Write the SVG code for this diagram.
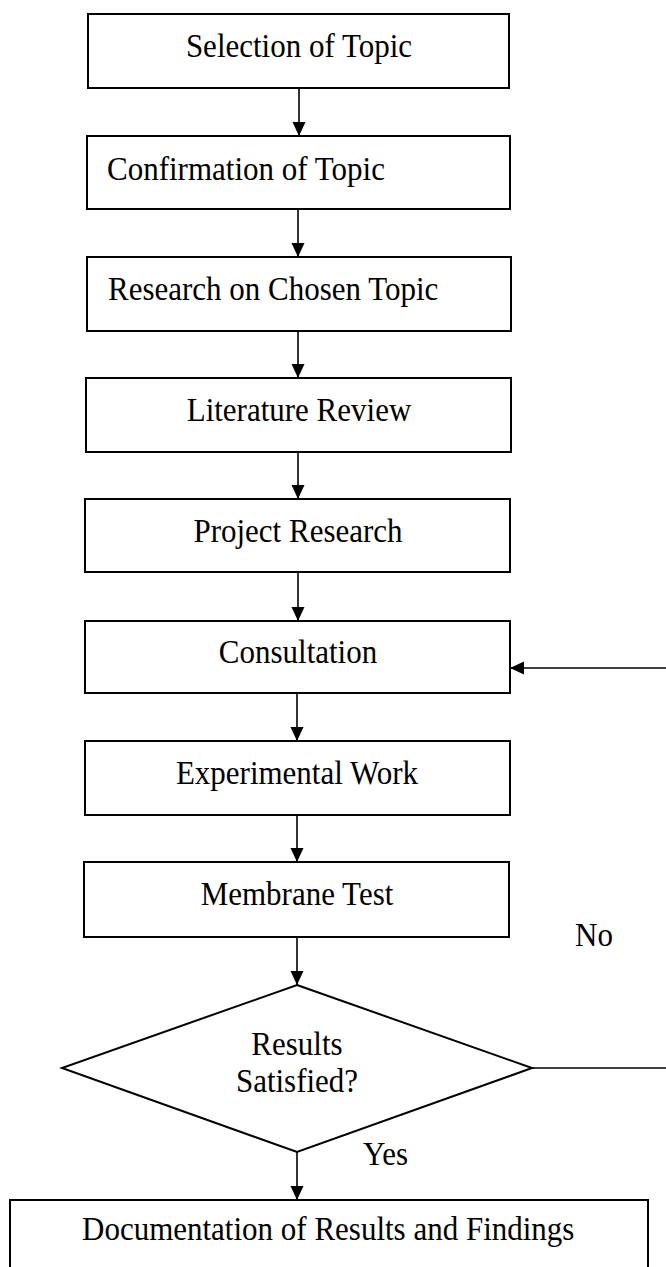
<svg xmlns="http://www.w3.org/2000/svg" width="666" height="1267" viewBox="0 0 666 1267">
<style>
.box{fill:#fff;stroke:#000;stroke-width:2}
.t{font-family:"Liberation Serif","Times New Roman",serif;font-size:31px;fill:#000}
.c{text-anchor:middle}
.ln{fill:none;stroke:#000;stroke-width:1.6}
</style>
<defs>
<marker id="ah" markerUnits="userSpaceOnUse" markerWidth="14" markerHeight="14" refX="14" refY="6.5" orient="auto">
<path d="M0,0 L14,6.5 L0,13 Z" fill="#000"/>
</marker>
</defs>
<rect width="666" height="1267" fill="#fff"/>
<g id="connectors">
<line class="ln" x1="299" y1="88" x2="299" y2="136" marker-end="url(#ah)"/>
<line class="ln" x1="298" y1="209" x2="298" y2="257" marker-end="url(#ah)"/>
<line class="ln" x1="298" y1="331" x2="298" y2="378" marker-end="url(#ah)"/>
<line class="ln" x1="298" y1="452" x2="298" y2="499" marker-end="url(#ah)"/>
<line class="ln" x1="298" y1="572" x2="298" y2="621" marker-end="url(#ah)"/>
<line class="ln" x1="297" y1="693" x2="297" y2="741" marker-end="url(#ah)"/>
<line class="ln" x1="297" y1="815" x2="297" y2="862" marker-end="url(#ah)"/>
<line class="ln" x1="297" y1="937" x2="297" y2="985" marker-end="url(#ah)"/>
<line class="ln" x1="297" y1="1152" x2="297" y2="1200" marker-end="url(#ah)"/>
<line class="ln" x1="532" y1="1068" x2="668" y2="1068"/>
<line class="ln" x1="668" y1="668" x2="510" y2="668" marker-end="url(#ah)"/>
<text class="t" transform="translate(575,946) scale(1,1.12)">No</text>
<text class="t" transform="translate(363,1165) scale(1,1.12)">Yes</text>
</g>
<g id="n1"><rect class="box" x="88" y="14" width="421" height="74"/><text class="t c" transform="translate(299,57) scale(1,1.12)">Selection of Topic</text></g>
<g id="n2"><rect class="box" x="87" y="136" width="423" height="73"/><text class="t" transform="translate(107,180) scale(1,1.12)">Confirmation of Topic</text></g>
<g id="n3"><rect class="box" x="87" y="257" width="424" height="74"/><text class="t" transform="translate(108,300) scale(1,1.12)">Research on Chosen Topic</text></g>
<g id="n4"><rect class="box" x="86" y="378" width="425" height="74"/><text class="t c" transform="translate(299,421) scale(1,1.12)">Literature Review</text></g>
<g id="n5"><rect class="box" x="85" y="499" width="425" height="73"/><text class="t c" transform="translate(298,542) scale(1,1.12)">Project Research</text></g>
<g id="n6"><rect class="box" x="85" y="621" width="425" height="72"/><text class="t c" transform="translate(298,663) scale(1,1.12)">Consultation</text></g>
<g id="n7"><rect class="box" x="85" y="741" width="425" height="74"/><text class="t c" transform="translate(297,784) scale(1,1.12)">Experimental Work</text></g>
<g id="n8"><rect class="box" x="84" y="862" width="425" height="75"/><text class="t c" transform="translate(297,905) scale(1,1.12)">Membrane Test</text></g>
<g id="n9"><polygon class="box" points="297,985 532,1068 297,1152 62,1068"/><text class="t c" transform="translate(297,1055) scale(1,1.12)"><tspan x="0" y="0">Results</tspan><tspan x="0" y="33">Satisfied?</tspan></text></g>
<g id="n10"><rect class="box" x="10" y="1200" width="638" height="90"/><text class="t" transform="translate(82,1240) scale(1,1.12)">Documentation of Results and Findings</text></g>
</svg>
